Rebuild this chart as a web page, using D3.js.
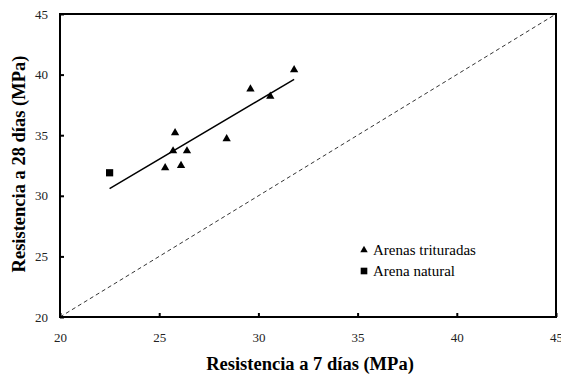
<!DOCTYPE html>
<html>
<head>
<meta charset="utf-8">
<script src="https://cdn.jsdelivr.net/npm/d3@7"></script>
<style>
  body { margin: 0; background: #fff; }
</style>
</head>
<body>
<div id="content"></div>
<script>
// Data
const crushedX = [25.3, 25.8, 25.7, 26.1, 26.4, 28.4, 29.6, 30.6, 31.8];
const crushedY = [32.3, 35.2, 33.7, 32.5, 33.7, 34.7, 38.8, 38.2, 40.4];
const naturalX = [22.5];
const naturalY = [31.9];
const trendX = [22.5, 31.8];
const trendY = [30.6, 39.6];
const xTicks = [20, 25, 30, 35, 40, 45];
const yTicks = [20, 25, 30, 35, 40, 45];
const seriesNames = ['Arenas trituradas', 'Arena natural'];

const FONT = 'Liberation Serif';
const width = 561, height = 376;
const margin = { top: 14, right: 5, bottom: 59, left: 60 };

const svg = d3.select('#content').append('svg')
  .attr('width', width).attr('height', height)
  .attr('font-family', FONT);

const x = d3.scaleLinear().domain([20, 45]).range([margin.left, width - margin.right]);
const y = d3.scaleLinear().domain([20, 45]).range([height - margin.bottom, margin.top]);

// 1:1 dashed line
svg.append('line')
  .attr('x1', x(20)).attr('y1', y(20)).attr('x2', x(45)).attr('y2', y(45))
  .attr('stroke', '#000').attr('stroke-width', 0.8).attr('stroke-dasharray', '4,3');

// axes with inward ticks
const xAxis = svg.append('g').attr('transform', `translate(0,${y(20)})`)
  .call(d3.axisBottom(x).tickValues(xTicks).tickSize(-4).tickPadding(16).tickFormat(d3.format('d')));
const yAxis = svg.append('g').attr('transform', `translate(${x(20)},0)`)
  .call(d3.axisLeft(y).tickValues(yTicks).tickSize(-4).tickPadding(12).tickFormat(d3.format('d')));
[xAxis, yAxis].forEach(g => {
  g.attr('font-family', FONT).attr('font-size', 13);
  g.select('.domain').remove();
  g.selectAll('.tick line').attr('stroke', '#000').attr('stroke-width', 2);
  g.selectAll('.tick text').attr('fill', '#222');
});

// frame
svg.append('rect')
  .attr('x', x(20)).attr('y', y(45))
  .attr('width', x(45) - x(20)).attr('height', y(20) - y(45))
  .attr('fill', 'none').attr('stroke', '#000').attr('stroke-width', 2);

// trend line
svg.append('path')
  .datum(d3.zip(trendX, trendY))
  .attr('d', d3.line().x(d => x(d[0])).y(d => y(d[1])))
  .attr('stroke', '#000').attr('stroke-width', 1.5).attr('fill', 'none');

const tri = d3.symbol().type(d3.symbolTriangle).size(30);
const sq = d3.symbol().type(d3.symbolSquare).size(52);

svg.append('g').selectAll('path')
  .data(d3.zip(crushedX, crushedY))
  .join('path')
  .attr('transform', d => `translate(${x(d[0])},${y(d[1])})`)
  .attr('d', tri).attr('fill', '#000');

svg.append('g').selectAll('path')
  .data(d3.zip(naturalX, naturalY))
  .join('path')
  .attr('transform', d => `translate(${x(d[0])},${y(d[1])})`)
  .attr('d', sq).attr('fill', '#000');

// legend
const legend = svg.append('g').attr('transform', 'translate(364,250)');
seriesNames.forEach((name, i) => {
  legend.append('path')
    .attr('transform', `translate(0,${i * 21})`)
    .attr('d', i === 0 ? d3.symbol().type(d3.symbolTriangle).size(24) : d3.symbol().type(d3.symbolSquare).size(44))
    .attr('fill', '#000');
  legend.append('text')
    .attr('x', 9).attr('y', i * 21 + 5)
    .attr('font-size', 15).attr('fill', '#000')
    .text(name);
});

// axis titles
svg.append('text')
  .attr('x', 310).attr('y', 370)
  .attr('text-anchor', 'middle')
  .attr('font-size', 18.5).attr('font-weight', 'bold')
  .text('Resistencia a 7 días (MPa)');

svg.append('text')
  .attr('transform', `translate(25,164) rotate(-90)`)
  .attr('text-anchor', 'middle')
  .attr('font-size', 18.5).attr('font-weight', 'bold')
  .text('Resistencia a 28 días (MPa)');
</script>
</body>
</html>
